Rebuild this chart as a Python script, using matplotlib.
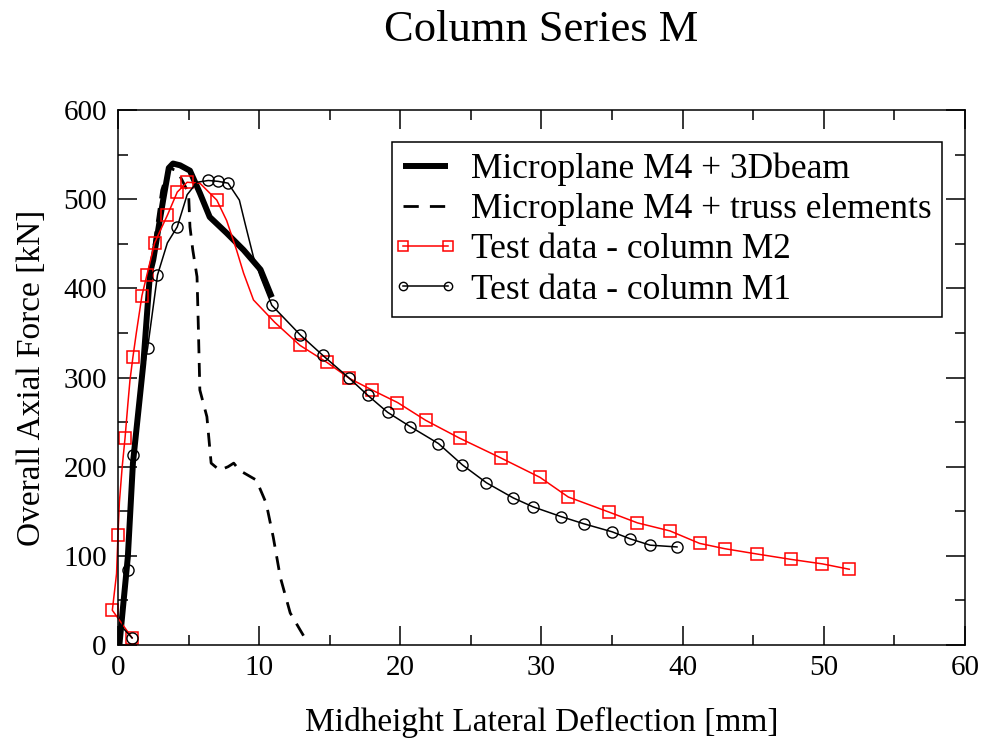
import matplotlib
matplotlib.use('Agg')
import matplotlib.pyplot as plt
from matplotlib.lines import Line2D
from matplotlib.legend_handler import HandlerLine2D
from matplotlib.ticker import MultipleLocator

plt.rcParams['font.family'] = ['Liberation Serif', 'DejaVu Serif']
plt.rcParams['lines.scale_dashes'] = False

# Microplane M4 + 3Dbeam
beam_x = [0.1, 0.7, 1.06, 1.8, 2.27, 2.5, 3.2, 3.6, 3.9, 4.4, 5.1, 5.8, 6.5, 7.7, 8.9, 10.1, 10.9]
beam_y = [0, 99, 204, 316, 417, 432, 499, 535, 540, 538, 532, 507, 480, 462, 443, 421, 390]

# Microplane M4 + truss elements
truss_x = [0.1, 0.7, 1.06, 1.8, 2.27, 3.1, 3.6, 4.2, 5.0, 5.1, 5.3, 5.6, 5.7, 5.8, 6.3, 6.6,
           7.2, 7.8, 8.2, 8.6, 9.8, 10.5, 11.0, 11.5, 12.2, 12.9, 13.2]
truss_y = [0, 100, 204, 316, 417, 510, 535, 532, 507, 469, 443, 413, 353, 286, 256, 204,
           196, 200, 204, 196, 185, 159, 121, 76, 36, 17, 9]

# Test data - column M2
m2_x = [1.0, -0.4, -0.1, 0.0, 0.1, 0.3, 0.5, 0.7, 0.85, 1.06, 1.3, 1.7, 2.05, 2.6, 3.0, 3.5,
        4.2, 4.9, 5.8, 7.0, 7.7, 8.4, 8.9, 9.6, 11.1, 12.9, 14.8, 16.4, 18.0, 19.8, 21.8,
        24.2, 27.1, 29.9, 31.9, 34.8, 36.8, 39.1, 41.2, 43.0, 45.3, 47.7, 49.9, 51.8]
m2_y = [8, 39, 80, 123, 160, 200, 232, 270, 297, 323, 350, 392, 415, 451, 465, 482,
        508, 519, 518, 499, 476, 443, 417, 387, 362, 336, 317, 299, 286, 272, 252,
        232, 210, 188, 166, 149, 137, 128, 114, 108, 102, 96, 91, 85]
m2_marks = [0, 1, 3, 6, 9, 11, 12, 13, 15, 16, 17, 19] + list(range(24, 44))

# Test data - column M1
m1_x = [1.0, 0.3, 0.5, 0.7, 0.9, 1.06, 1.5, 2.1, 2.8, 3.5, 4.2, 4.9, 5.6, 6.4, 7.1, 7.8,
        8.6, 9.0, 9.6, 10.1, 10.9, 12.9, 14.5, 16.4, 17.7, 19.1, 20.7, 22.7, 24.4, 26.1,
        28.0, 29.4, 31.4, 33.0, 35.0, 36.3, 37.7, 39.6]
m1_y = [8, 20, 60, 84, 150, 213, 280, 333, 415, 451, 469, 505, 519, 521, 520, 518,
        499, 473, 435, 413, 381, 348, 325, 299, 280, 261, 245, 226, 202, 182,
        165, 155, 144, 136, 127, 119, 112, 110]
m1_marks = [0, 3, 5, 7, 8, 10, 13, 14, 15] + list(range(20, 38))

labels = ['Microplane M4 + 3Dbeam', 'Microplane M4 + truss elements',
          'Test data - column M2', 'Test data - column M1']

fig = plt.figure(figsize=(9.88, 7.47), dpi=100)
ax = fig.add_axes([0.1194, 0.1365, 0.8573, 0.7162])

ax.plot(beam_x, beam_y, color='black', lw=4.3, solid_capstyle='butt')
ax.plot(truss_x, truss_y, color='black', lw=2.0, linestyle=(0, (10, 7)))
ax.plot(m2_x, m2_y, color='red', lw=1.1, marker='s', ms=8, mfc='none', mec='red',
        mew=1.1, markevery=m2_marks, clip_on=False)
ax.plot(m1_x, m1_y, color='black', lw=1.1, marker='o', ms=8, mfc='none', mec='black',
        mew=1.0, markevery=m1_marks)

handles = [
    Line2D([], [], color='black', lw=4.3, solid_capstyle='butt'),
    Line2D([], [], color='black', lw=2.0, linestyle=(0, (11, 8)), dash_capstyle='butt'),
    Line2D([], [], color='red', lw=1.1, marker='s', ms=7, mfc='none', mec='red', mew=1.1),
    Line2D([], [], color='black', lw=1.1, marker='o', ms=6, mfc='none', mec='black', mew=1.0),
]

ax.set_xlim(0, 60)
ax.set_ylim(0, 600)
ax.xaxis.set_major_locator(MultipleLocator(10))
ax.xaxis.set_minor_locator(MultipleLocator(5))
ax.yaxis.set_major_locator(MultipleLocator(100))
ax.yaxis.set_minor_locator(MultipleLocator(50))
ax.tick_params(which='both', direction='in', top=True, right=True, width=1.1,
               labelsize=21)
ax.tick_params(which='major', length=14)
ax.tick_params(which='minor', length=7.5)
ax.tick_params(axis='y', pad=8)
ax.tick_params(axis='x', pad=7)
for s in ax.spines.values():
    s.set_linewidth(1.1)

ax.set_xlabel('Midheight Lateral Deflection [mm]', fontsize=24, labelpad=19)
ax.set_ylabel('Overall Axial Force [kN]', fontsize=24, labelpad=12)
fig.text(0.548, 1 - 30 / 747, 'Column Series M', fontsize=32, ha='center', va='center')

leg = ax.legend(handles, labels, loc='upper right', bbox_to_anchor=(0.973, 0.940),
                borderaxespad=0, fontsize=25.5, handlelength=1.27, handletextpad=0.65,
                borderpad=0.3, labelspacing=0.2, numpoints=2, fancybox=False,
                framealpha=1, handler_map={Line2D: HandlerLine2D(marker_pad=0)})
leg.get_frame().set_edgecolor('black')
leg.get_frame().set_linewidth(1.1)

fig.savefig('out.png', dpi=100)
